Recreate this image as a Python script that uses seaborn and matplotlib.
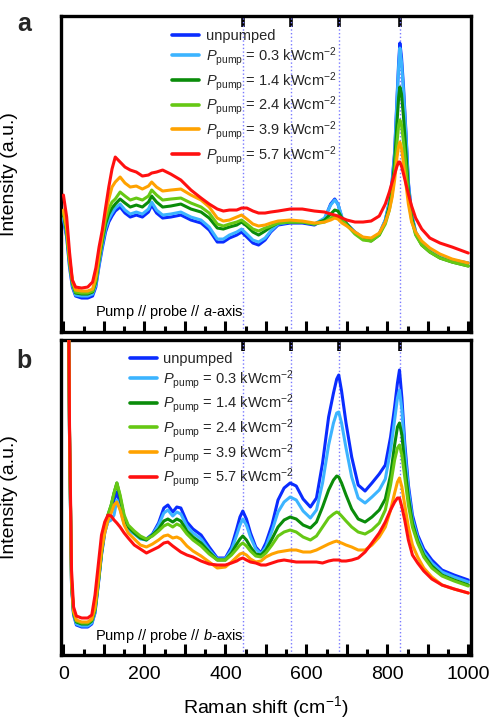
import numpy as np
import pandas as pd
import matplotlib
matplotlib.use("Agg")
import matplotlib.pyplot as plt
from matplotlib.ticker import MultipleLocator, FuncFormatter
import seaborn as sns

# ---------------- data (arbitrary intensity units) ----------------
series_names = ["unpumped",
                r"$P_{\mathrm{pump}}$ = 0.3 kWcm$^{-2}$",
                r"$P_{\mathrm{pump}}$ = 1.4 kWcm$^{-2}$",
                r"$P_{\mathrm{pump}}$ = 2.4 kWcm$^{-2}$",
                r"$P_{\mathrm{pump}}$ = 3.9 kWcm$^{-2}$",
                r"$P_{\mathrm{pump}}$ = 5.7 kWcm$^{-2}$"]
series_colors = ["#0a2cff", "#3cb4ff", "#0a8c0a", "#66c814", "#ffa200", "#ff1010"]

# panel a: pump // probe // a-axis
shift_a = [0, 8, 15, 22, 30, 45, 60, 72, 80, 88, 96, 104, 112, 120, 128, 140, 152, 165, 180, 195,
           210, 218, 230, 245, 265, 290, 315, 340, 360, 380, 395, 410, 428, 440, 453, 468, 482, 498,
           512, 530, 560, 590, 620, 645, 660, 670, 678, 688, 700, 720, 740, 760, 780, 795, 805, 812,
           818, 824, 828, 831, 835, 840, 846, 852, 860, 870, 885, 905, 930, 960, 1000]
a_unpumped = [112, 95, 65, 45, 36, 34, 34, 36, 45, 66, 84, 100, 110, 116, 121, 125, 119, 115, 117, 115,
              120, 127, 119, 114, 115, 117, 112, 109, 102, 90, 90, 94, 97, 100, 95, 89, 87, 92, 100, 107,
              109, 109, 107, 113, 128, 133, 128, 114, 108, 100, 94, 92, 98, 112, 130, 152, 180, 235, 270, 289,
              275, 245, 200, 150, 118, 100, 89, 83, 76, 72, 69]
a_p03 = [114, 97, 67, 47, 37, 36, 36, 38, 47, 68, 87, 103, 113, 119, 124, 128, 122, 118, 120, 118,
         123, 130, 122, 117, 118, 120, 115, 112, 105, 93, 93, 97, 100, 103, 98, 92, 90, 94, 101, 108,
         110, 110, 108, 114, 127, 132, 128, 115, 108, 100, 94, 92, 98, 112, 130, 150, 178, 232, 266, 284,
         270, 240, 197, 148, 117, 100, 89, 83, 76, 72, 69]
a_p14 = [118, 100, 70, 49, 39, 38, 38, 40, 50, 72, 91, 108, 118, 124, 128, 133, 129, 125, 127, 125,
         130, 136, 130, 125, 126, 128, 123, 120, 114, 104, 103, 105, 107, 110, 106, 100, 97, 101, 105, 109,
         110, 110, 108, 112, 118, 122, 121, 114, 108, 99, 93, 91, 97, 110, 126, 145, 170, 210, 235, 245,
         238, 215, 180, 142, 115, 98, 87, 80, 74, 70, 66]
a_p24 = [120, 102, 72, 50, 40, 39, 39, 41, 52, 74, 94, 112, 123, 130, 133, 140, 136, 132, 134, 132,
         136, 142, 137, 132, 133, 134, 129, 125, 119, 108, 106, 108, 110, 112, 108, 103, 101, 104, 106, 109,
         110, 110, 108, 110, 114, 116, 116, 112, 107, 98, 92, 91, 97, 108, 122, 138, 160, 190, 207, 212,
         207, 190, 165, 135, 112, 97, 87, 80, 74, 70, 66]
a_p39 = [122, 104, 74, 52, 42, 41, 41, 43, 55, 77, 98, 118, 133, 145, 150, 155, 149, 145, 146, 143,
         146, 150, 145, 141, 142, 143, 137, 132, 125, 114, 111, 112, 115, 117, 113, 108, 106, 107, 109, 111,
         112, 111, 109, 110, 112, 114, 113, 109, 106, 100, 95, 94, 99, 110, 122, 135, 152, 175, 186, 190,
         184, 168, 148, 128, 110, 100, 91, 84, 78, 73, 69]
a_p57 = [137, 115, 80, 52, 45, 44, 45, 50, 64, 85, 102, 124, 145, 163, 175, 170, 165, 162, 160, 156,
         157, 159, 160, 162, 158, 152, 142, 134, 128, 123, 121, 122, 122, 124, 124, 121, 119, 119, 120, 121,
         123, 123, 121, 120, 118, 117, 116, 114, 112, 110, 110, 111, 116, 128, 140, 150, 158, 166, 170, 170,
         166, 158, 148, 138, 126, 114, 103, 94, 89, 85, 79]

# panel b: pump // probe // b-axis
shift_b = [0, 5, 10, 15, 20, 25, 32, 45, 60, 70, 78, 86, 94, 102, 110, 118, 125, 132, 140, 150,
           160, 175, 190, 205, 220, 235, 248, 258, 270, 280, 290, 305, 320, 340, 360, 380, 400, 415,
           428, 436, 443, 452, 462, 475, 488, 500, 515, 530, 545, 560, 575, 592, 610, 625, 640, 655,
           667, 675, 680, 687, 698, 712, 728, 745, 762, 780, 795, 808, 818, 825, 830, 836, 843, 852,
           862, 875, 890, 910, 935, 965, 1000]
b_unpumped = [1500, 900, 500, 220, 70, 40, 30, 28, 28, 31, 42, 70, 100, 122, 135, 145, 155, 163, 150, 133,
              126, 122, 117, 116, 121, 132, 147, 150, 143, 148, 147, 133, 126, 120, 108, 97, 97, 108, 126, 138,
              144, 136, 122, 108, 102, 112, 130, 155, 167, 172, 169, 156, 148, 157, 192, 238, 262, 276, 280, 264,
              232, 198, 170, 164, 172, 181, 190, 218, 248, 272, 285, 257, 212, 170, 140, 120, 106, 95, 85, 80, 75]
b_p03 = [1500, 900, 500, 220, 70, 41, 31, 29, 29, 32, 43, 71, 101, 123, 133, 135, 140, 155, 146, 131,
         125, 121, 116, 115, 120, 130, 142, 145, 139, 143, 141, 129, 122, 116, 105, 96, 96, 105, 120, 130,
         136, 130, 118, 106, 101, 108, 124, 143, 153, 158, 155, 144, 137, 145, 172, 210, 232, 242, 243, 232,
         207, 178, 157, 152, 158, 165, 176, 205, 235, 257, 265, 245, 205, 165, 136, 117, 103, 92, 83, 78, 73]
b_p14 = [1500, 900, 500, 222, 72, 42, 33, 31, 31, 34, 45, 72, 102, 125, 140, 150, 162, 172, 158, 138,
         128, 122, 117, 115, 120, 126, 134, 136, 133, 136, 134, 124, 118, 112, 103, 95, 95, 102, 111, 116,
         119, 115, 108, 101, 100, 105, 116, 128, 135, 138, 136, 130, 127, 133, 148, 165, 175, 179, 178, 172,
         160, 146, 136, 133, 138, 145, 156, 180, 210, 228, 232, 220, 190, 158, 132, 114, 100, 89, 80, 75, 70]
b_p24 = [1500, 900, 500, 222, 72, 43, 34, 32, 32, 35, 46, 73, 103, 126, 140, 150, 162, 172, 160, 140,
         130, 124, 119, 116, 119, 124, 129, 131, 128, 131, 129, 121, 115, 109, 101, 95, 95, 100, 106, 110,
         112, 109, 104, 99, 98, 102, 110, 119, 123, 125, 123, 118, 115, 119, 128, 137, 141, 143, 142, 139,
         134, 128, 123, 121, 125, 132, 145, 170, 195, 207, 210, 200, 178, 150, 128, 112, 98, 87, 79, 74, 69]
b_p39 = [1500, 900, 500, 225, 75, 44, 35, 33, 33, 36, 48, 75, 105, 122, 135, 142, 150, 153, 145, 130,
         122, 116, 110, 108, 111, 115, 119, 120, 117, 118, 116, 109, 104, 99, 93, 87, 88, 93, 98, 101,
         102, 100, 96, 93, 94, 98, 101, 103, 104, 105, 105, 103, 103, 105, 108, 111, 113, 114, 113, 112,
         110, 108, 105, 105, 110, 118, 128, 145, 162, 173, 177, 168, 150, 128, 110, 98, 87, 78, 70, 66, 62]
b_p57 = [1500, 900, 500, 230, 85, 48, 39, 37, 37, 40, 60, 90, 120, 133, 140, 139, 135, 132, 128, 122,
         117, 110, 106, 102, 105, 108, 112, 113, 109, 106, 103, 100, 98, 94, 91, 90, 90, 92, 94, 96,
         97, 95, 93, 92, 90, 90, 92, 94, 95, 94, 93, 93, 93, 93, 92, 94, 95, 95, 95, 94,
         94, 95, 97, 103, 112, 122, 133, 145, 153, 157, 157, 148, 135, 115, 100, 92, 84, 76, 70, 66, 62]

mode_positions = [443, 561, 681, 831]
panel_letters = ["a", "b"]
geometry_notes = ["Pump // probe // $a$-axis", "Pump // probe // $b$-axis"]


def long_frame(shift, columns):
    frames = []
    for name, vals in zip(series_names, columns):
        frames.append(pd.DataFrame({"shift": shift, "intensity": vals, "series": name}))
    return pd.concat(frames, ignore_index=True)


df_a = long_frame(shift_a, [a_unpumped, a_p03, a_p14, a_p24, a_p39, a_p57])
df_b = long_frame(shift_b, [b_unpumped, b_p03, b_p14, b_p24, b_p39, b_p57])

# ---------------- style ----------------
sns.set_theme(style="white")
plt.rcParams["font.family"] = ["Liberation Sans", "DejaVu Sans"]
plt.rcParams["mathtext.fontset"] = "custom"
plt.rcParams["mathtext.rm"] = "Liberation Sans"
plt.rcParams["mathtext.it"] = "Liberation Sans:italic"
plt.rcParams["mathtext.bf"] = "Liberation Sans:bold"
plt.rcParams["axes.unicode_minus"] = False

fig = plt.figure(figsize=(4.90, 7.19), dpi=100)
ax_a = fig.add_axes([0.1245, 0.5382, 0.837, 0.4395])
ax_b = fig.add_axes([0.1245, 0.0890, 0.837, 0.4381])

palette = dict(zip(series_names, series_colors))

for ax, df, ylim, legend_anchor, note_y, letter, note in [
        (ax_a, df_a, (0, 316), (0.271, 0.958), 0.064, panel_letters[0], geometry_notes[0]),
        (ax_b, df_b, (0, 315), (0.168, 0.962), 0.060, panel_letters[1], geometry_notes[1])]:
    for xpos in mode_positions:
        ax.axvline(xpos, color="#7a7aff", linestyle=":", linewidth=1.0, zorder=1)
    sns.lineplot(data=df, x="shift", y="intensity", hue="series", hue_order=series_names,
                 palette=palette, linewidth=2.2, errorbar=None, sort=True, ax=ax, zorder=3)
    ax.set_xlim(-6, 1007)
    ax.set_ylim(*ylim)
    ax.set_yticks([])
    ax.xaxis.set_major_locator(MultipleLocator(100))
    ax.xaxis.set_minor_locator(MultipleLocator(50))
    ax.xaxis.set_major_formatter(FuncFormatter(lambda v, p: f"{int(round(v))}" if int(round(v)) % 200 == 0 else ""))
    ax.tick_params(axis="x", which="major", direction="in", length=8, width=2.2,
                   bottom=True, top=False, labelsize=14, pad=8, color="black", labelcolor="black")
    ax.tick_params(axis="x", which="minor", direction="in", length=4.5, width=2.2,
                   bottom=True, top=False, color="black")
    for sp in ax.spines.values():
        sp.set_visible(True)
        sp.set_color("black")
        sp.set_linewidth(2.4)
    sec = ax.secondary_xaxis("top")
    sec.set_xticks(mode_positions)
    sec.tick_params(direction="in", length=8, width=2.6, labeltop=False, color="black")
    sec.spines["top"].set_visible(False)

    handles, labels = ax.get_legend_handles_labels()
    leg = ax.legend(handles, labels, loc="upper left", bbox_to_anchor=legend_anchor,
                    frameon=False, fontsize=10.5, handlelength=1.85, handletextpad=0.45,
                    labelspacing=0.12, borderpad=0, borderaxespad=0)
    for line in leg.get_lines():
        line.set_linewidth(2.6)
    ax.text(0.083, note_y, note, transform=ax.transAxes, fontsize=10.5, ha="left", va="center",
            color="black")
    ax.set_ylabel("Intensity (a.u.)", fontsize=14, color="black")
    ax.yaxis.set_label_coords(-0.104, 0.5)
    ax.set_xlabel("")

ax_a.tick_params(axis="x", labelbottom=False)
ax_b.set_xlabel("Raman shift (cm$^{-1}$)", fontsize=14, color="black", labelpad=8)

fig.text(0.049, 0.966, panel_letters[0], fontsize=18, fontweight="bold", ha="center", va="center")
fig.text(0.049, 0.498, panel_letters[1], fontsize=18, fontweight="bold", ha="center", va="center")

fig.savefig("out.png", dpi=100)
